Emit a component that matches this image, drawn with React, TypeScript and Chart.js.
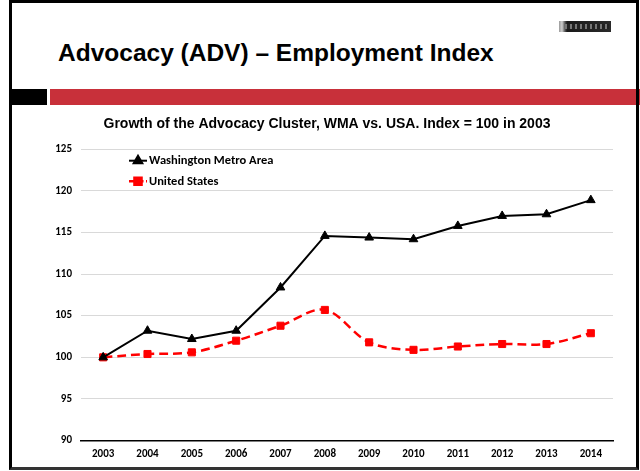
import React, { useEffect, useRef } from 'react';
import { Chart, registerables } from 'chart.js';
import { drawPoint } from 'chart.js/helpers';

Chart.register(...registerables);

const years = ['2003', '2004', '2005', '2006', '2007', '2008', '2009', '2010', '2011', '2012', '2013', '2014'];
const wmaValues = [100, 103.2, 102.2, 103.2, 108.4, 114.6, 114.4, 114.2, 115.8, 117.0, 117.2, 118.9];
const usValues = [100, 100.4, 100.6, 102.0, 103.8, 105.7, 101.8, 100.9, 101.3, 101.6, 101.6, 102.9];
const seriesNames = ['Washington Metro Area', 'United States'];
const slideTitle = 'Advocacy (ADV) \u2013 Employment Index';
const chartTitle = 'Growth of the Advocacy Cluster, WMA vs. USA. Index = 100 in 2003';
const yMin = 90;
const yMax = 125;
const yStep = 5;

const tickFont = { family: 'Carlito, Lato, sans-serif', size: 11, weight: 'bold' as const };

export default function App() {
  const ref = useRef<HTMLCanvasElement>(null);

  useEffect(() => {
    if (!ref.current) return;
    const legendPlugin = {
      id: 'insideLegend',
      afterDatasetsDraw(chart: any) {
        const { ctx, chartArea } = chart;
        chart.data.datasets.forEach((ds: any, i: number) => {
          const y = chartArea.top + 11.3 + i * 20.5;
          const x0 = chartArea.left + 48;
          const x1 = chartArea.left + 66;
          ctx.save();
          ctx.strokeStyle = ds.borderColor;
          ctx.lineWidth = ds.borderWidth;
          ctx.setLineDash(ds.borderDash ? [6, 2.5] : []);
          ctx.beginPath();
          ctx.moveTo(x0, y);
          ctx.lineTo(x1, y);
          ctx.stroke();
          ctx.setLineDash([]);
          ctx.fillStyle = ds.backgroundColor;
          ctx.strokeStyle = ds.borderColor;
          drawPoint(ctx, { pointStyle: ds.pointStyle, rotation: 0, radius: ds.pointRadius, borderWidth: 1 }, (x0 + x1) / 2, y);
          ctx.fillStyle = '#000';
          ctx.font = 'bold 12.5px Carlito, Lato, sans-serif';
          ctx.textBaseline = 'middle';
          ctx.textAlign = 'left';
          ctx.fillText(ds.label, x1 + 2, y + 0.5);
          ctx.restore();
        });
      },
    };

    const chart = new Chart(ref.current, {
      type: 'line',
      data: {
        labels: years,
        datasets: [
          {
            label: seriesNames[0],
            data: wmaValues,
            borderColor: '#000000',
            backgroundColor: '#000000',
            borderWidth: 2,
            pointStyle: 'triangle',
            pointRadius: 5,
            pointBorderWidth: 1,
            tension: 0,
          },
          {
            label: seriesNames[1],
            data: usValues,
            borderColor: '#ff0000',
            backgroundColor: '#ff0000',
            borderWidth: 2.5,
            borderDash: [9, 5],
            pointStyle: 'rect',
            pointRadius: 5,
            pointBorderWidth: 1,
            tension: 0.35,
          },
        ],
      },
      options: {
        responsive: true,
        maintainAspectRatio: false,
        animation: false,
        layout: { padding: { left: 41, right: 27, top: 0, bottom: 8.5 } },
        plugins: {
          legend: { display: false },
          tooltip: { enabled: false },
          title: {
            display: true,
            text: chartTitle,
            color: '#000',
            font: { family: '"Liberation Sans", Arial, sans-serif', size: 14, weight: 'bold' },
            padding: { top: 7.4, bottom: 17.2 },
          },
        },
        scales: {
          x: {
            type: 'category',
            offset: true,
            grid: { display: false, drawTicks: false },
            border: { display: true, color: '#000', width: 1.5 },
            ticks: { font: tickFont, color: '#000', padding: 7, maxRotation: 0, autoSkip: false },
            afterFit(s: any) { s.height = 22; },
          },
          y: {
            min: yMin,
            max: yMax,
            ticks: { stepSize: yStep, font: tickFont, color: '#000', padding: 9 },
            grid: { color: '#d9d9d9', lineWidth: 1, drawTicks: false },
            border: { display: false },
            afterFit(s: any) { s.width = 40; },
          },
        },
      },
      plugins: [legendPlugin],
    });
    return () => chart.destroy();
  }, []);

  return (
    <div style={{ position: 'fixed', left: 0, top: 0, width: 640, height: 471, background: '#fff', overflow: 'hidden' }}>
      <div
        style={{
          position: 'absolute', left: 58, top: 39.5, fontFamily: '"Liberation Sans", Arial, sans-serif',
          fontWeight: 'bold', fontSize: 24.5, lineHeight: '25px', color: '#000', whiteSpace: 'nowrap',
        }}
      >
        {slideTitle}
      </div>
      <div style={{ position: 'absolute', left: 559, top: 21, width: 52, height: 11, background: 'linear-gradient(90deg, #9a9a9a 0px, #cfcfcf 3px, #555 6px, #1a1a1a 8px, #2a2a2a 100%)' }} />
      <div style={{ position: 'absolute', left: 565, top: 24, width: 44, height: 5, background: 'repeating-linear-gradient(90deg, #777 0px, #777 2px, #222 2px, #222 5px)' }} />
      <div style={{ position: 'absolute', left: 12, top: 89, width: 35, height: 16, background: '#000' }} />
      <div style={{ position: 'absolute', left: 50, top: 89, width: 590, height: 16, background: '#c8303a' }} />
      <div style={{ position: 'absolute', left: 0, top: 108, width: 640, height: 363 }}>
        <canvas ref={ref} />
      </div>
      <div
        style={{
          position: 'absolute', left: 9, top: 0, width: 630, height: 470, boxSizing: 'border-box',
          borderTop: '3px solid #000', borderLeft: '3px solid #000', borderRight: '3px solid #000',
          borderBottom: '3px solid #333', pointerEvents: 'none',
        }}
      />
    </div>
  );
}
